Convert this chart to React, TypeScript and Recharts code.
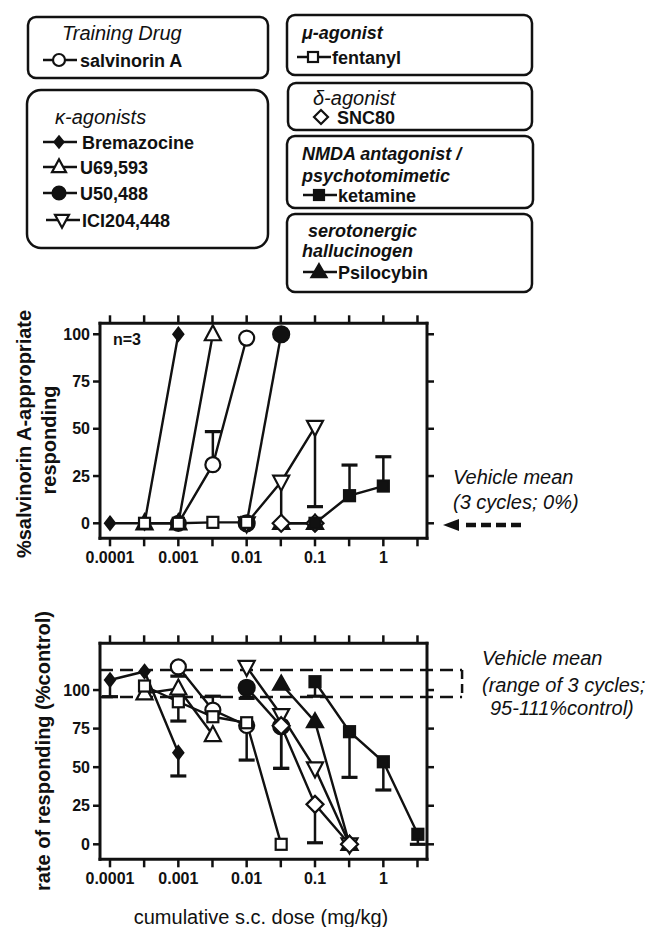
import React from 'react';
import { ComposedChart, Line, XAxis, YAxis, ReferenceLine } from 'recharts';

// ---------- data: [cumulative dose (mg/kg), value] ----------
const DOSE_TICKS = [0.0001, 0.000316, 0.001, 0.00316, 0.01, 0.0316, 0.1, 0.316, 1, 3.16];
const DOSE_TICK_LABELS = ['0.0001', '', '0.001', '', '0.01', '', '0.1', '', '1', ''];
const PCT_TICKS = [0, 25, 50, 75, 100];

const SALV_DISC = [[0.001, 0], [0.0032, 31], [0.01, 98]];
const SALV_RATE = [[0.001, 115], [0.0032, 87], [0.01, 77]];
const SALV_DISC_ERR = [[0.0032, 48.5]];
const SALV_RATE_ERR = [[0.001, 109], [0.0032, 96], [0.01, 54.6]];

const BREM_DISC = [[0.0001, 0], [0.00032, 0], [0.001, 100]];
const BREM_RATE = [[0.0001, 106.5], [0.00032, 112], [0.001, 59.4]];
const BREM_RATE_ERR = [[0.0001, 95.7], [0.001, 44.3]];

const U69_DISC = [[0.00032, 0], [0.001, 0], [0.0032, 100]];
const U69_RATE = [[0.00032, 97.8], [0.001, 101], [0.0032, 70.8]];

const U50_DISC = [[0.01, 0], [0.032, 100]];
const U50_RATE = [[0.01, 101.5], [0.032, 76.5]];
const U50_RATE_ERR = [[0.01, 94.6], [0.032, 49.2]];

const ICI_DISC = [[0.01, 0], [0.032, 22], [0.1, 51]];
const ICI_RATE = [[0.01, 115], [0.032, 83.8], [0.1, 49.2], [0.32, 0]];
const ICI_DISC_ERR = [[0.032, 0], [0.1, 8.8]];

const FENT_DISC = [[0.00032, 0], [0.001, 0], [0.0032, 0.5], [0.01, 0.5]];
const FENT_RATE = [[0.00032, 102.6], [0.001, 92.4], [0.0032, 82.7], [0.01, 78.8], [0.032, 0]];
const FENT_RATE_ERR = [[0.001, 79.9]];

const SNC_DISC = [[0.032, 0], [0.1, 0]];
const SNC_RATE = [[0.032, 76.9], [0.1, 25.9], [0.32, 0]];
const SNC_RATE_ERR = [[0.032, 49.2], [0.1, 1]];

const KET_DISC = [[0.1, 0], [0.32, 14.6], [1, 19.7]];
const KET_RATE = [[0.1, 105.4], [0.32, 73], [1, 53.5], [3.2, 6.5]];
const KET_DISC_ERR = [[0.32, 30.8], [1, 35.2]];
const KET_RATE_ERR = [[0.1, 96], [0.32, 43.4], [1, 35.2], [3.2, 0]];

const PSI_DISC = [[0.032, 0], [0.1, 0]];
const PSI_RATE = [[0.032, 103.9], [0.1, 79.5], [0.32, 0]];

// vehicle range (rate panel) and its box extent
const VEH_RATE_HIGH = 113;
const VEH_RATE_LOW = 95.5;
const VEH_BOX_END_DOSE = 14.2;

// ---------- styling / layout ----------
const INK = '#111';
const FONT = '"Liberation Sans", Arial, Helvetica, sans-serif';
const W = 647;
const H = 927;
const PLOT_LEFT = 100;
const PLOT_RIGHT = 427;
const LOG_MIN = -4.1463;
const LOG_MAX = 0.639;
const X_DOMAIN: [number, number] = [Math.pow(10, LOG_MIN), Math.pow(10, LOG_MAX)];
const PX_PER_DECADE = (PLOT_RIGHT - PLOT_LEFT) / (LOG_MAX - LOG_MIN);
const CAP_FACTOR = Math.pow(10, 8 / PX_PER_DECADE);

type Shape = 'circle' | 'square' | 'diamond' | 'tri' | 'triDown';

type Series = {
  id: string;
  shape: Shape;
  filled: boolean;
  w: number;
  h: number;
  disc: number[][];
  rate: number[][];
  discErr: number[][];
  rateErr: number[][];
};

const SERIES: Series[] = [
  { id: 'u50', shape: 'circle', filled: true, w: 16, h: 16, disc: U50_DISC, rate: U50_RATE, discErr: [], rateErr: U50_RATE_ERR },
  { id: 'salv', shape: 'circle', filled: false, w: 15, h: 15, disc: SALV_DISC, rate: SALV_RATE, discErr: SALV_DISC_ERR, rateErr: SALV_RATE_ERR },
  { id: 'u69', shape: 'tri', filled: false, w: 16, h: 15, disc: U69_DISC, rate: U69_RATE, discErr: [], rateErr: [] },
  { id: 'brem', shape: 'diamond', filled: true, w: 10, h: 13, disc: BREM_DISC, rate: BREM_RATE, discErr: [], rateErr: BREM_RATE_ERR },
  { id: 'ici', shape: 'triDown', filled: false, w: 16, h: 15, disc: ICI_DISC, rate: ICI_RATE, discErr: ICI_DISC_ERR, rateErr: [] },
  { id: 'psi', shape: 'tri', filled: true, w: 16, h: 14, disc: PSI_DISC, rate: PSI_RATE, discErr: [], rateErr: [] },
  { id: 'snc', shape: 'diamond', filled: false, w: 17, h: 17, disc: SNC_DISC, rate: SNC_RATE, discErr: [], rateErr: SNC_RATE_ERR },
  { id: 'fent', shape: 'square', filled: false, w: 11, h: 11, disc: FENT_DISC, rate: FENT_RATE, discErr: [], rateErr: FENT_RATE_ERR },
  { id: 'ket', shape: 'square', filled: true, w: 11, h: 11, disc: KET_DISC, rate: KET_RATE, discErr: KET_DISC_ERR, rateErr: KET_RATE_ERR },
];

type PanelGeom = { top: number; plotTop: number; plotBottom: number; yDomain: [number, number] };
const DISC_GEOM: PanelGeom = { top: 290, plotTop: 33.3, plotBottom: 248.3, yDomain: [-7.94, 105.8] };
const RATE_GEOM: PanelGeom = { top: 600, plotTop: 43.3, plotBottom: 259.3, yDomain: [-9.72, 130.3] };

function Marker({ shape, filled, cx, cy, w, h, sw = 2.2 }: { shape: Shape; filled: boolean; cx: number; cy: number; w: number; h: number; sw?: number }) {
  const fill = filled ? INK : '#fff';
  const common = { fill, stroke: INK, strokeWidth: sw };
  if (shape === 'circle') return <circle cx={cx} cy={cy} r={w / 2} {...common} />;
  if (shape === 'square') return <rect x={cx - w / 2} y={cy - h / 2} width={w} height={h} {...common} />;
  if (shape === 'diamond')
    return <polygon points={`${cx},${cy - h / 2} ${cx + w / 2},${cy} ${cx},${cy + h / 2} ${cx - w / 2},${cy}`} {...common} strokeLinejoin="miter" />;
  if (shape === 'tri')
    return <polygon points={`${cx},${cy - h * 0.6} ${cx + w / 2},${cy + h * 0.4} ${cx - w / 2},${cy + h * 0.4}`} {...common} />;
  return <polygon points={`${cx},${cy + h * 0.6} ${cx + w / 2},${cy - h * 0.4} ${cx - w / 2},${cy - h * 0.4}`} {...common} />;
}

const toPts = (arr: number[][]) => arr.map(([x, y]) => ({ x, y }));

function doseLabel(v: number) {
  const i = DOSE_TICKS.findIndex((t) => Math.abs(Math.log10(t) - Math.log10(v)) < 0.01);
  return i >= 0 ? DOSE_TICK_LABELS[i] : '';
}

const axisStyle = { stroke: INK, strokeWidth: 3, strokeLinecap: 'square' as const };
const tickLineStyle = { stroke: INK, strokeWidth: 2.5 };
const tickText = { fontSize: 16, fontWeight: 700, fill: INK, fontFamily: FONT };

function Panel({ kind, g }: { kind: 'disc' | 'rate'; g: PanelGeom }) {
  const CH = 300;
  const margin = { top: g.plotTop - 20, right: W - PLOT_RIGHT - 20, bottom: CH - g.plotBottom - 30, left: 0 };
  const errLines: React.ReactNode[] = [];
  SERIES.forEach((s) => {
    const vals = kind === 'disc' ? s.disc : s.rate;
    const errs = kind === 'disc' ? s.discErr : s.rateErr;
    errs.forEach(([dose, end], i) => {
      const m = vals.find((p) => p[0] === dose);
      if (!m) return;
      errLines.push(
        <ReferenceLine key={`${s.id}-ev-${i}`} xAxisId="b" yAxisId="l" ifOverflow="visible"
          segment={[{ x: dose, y: m[1] }, { x: dose, y: end }]} stroke={INK} strokeWidth={2.5} />
      );
      errLines.push(
        <ReferenceLine key={`${s.id}-ec-${i}`} xAxisId="b" yAxisId="l" ifOverflow="visible"
          segment={[{ x: dose / CAP_FACTOR, y: end }, { x: dose * CAP_FACTOR, y: end }]} stroke={INK} strokeWidth={3.2} />
      );
    });
  });
  return (
    <div style={{ position: 'absolute', left: 0, top: g.top }}>
      <ComposedChart width={W} height={CH} margin={margin}>
        <XAxis xAxisId="b" dataKey="x" type="number" scale="log" domain={X_DOMAIN} allowDataOverflow
          ticks={DOSE_TICKS} interval={0} tickFormatter={doseLabel} height={30} tickSize={8} tickMargin={5}
          axisLine={axisStyle} tickLine={tickLineStyle} tick={tickText} />
        <XAxis xAxisId="t" orientation="top" dataKey="x" type="number" scale="log" domain={X_DOMAIN} allowDataOverflow
          height={20} tick={false} tickLine={false} axisLine={axisStyle} />
        <YAxis yAxisId="l" type="number" domain={g.yDomain} allowDataOverflow ticks={PCT_TICKS} interval={0}
          width={100} tickSize={7} tickMargin={3} axisLine={axisStyle} tickLine={tickLineStyle} tick={tickText} />
        <YAxis yAxisId="r" orientation="right" type="number" domain={g.yDomain} allowDataOverflow
          width={20} tick={false} tickLine={false} axisLine={axisStyle} />
        <Line xAxisId="t" yAxisId="r" data={toPts(kind === 'disc' ? SERIES[0].disc : SERIES[0].rate)} dataKey="y" stroke="none" strokeWidth={0}
          dot={false} activeDot={false} isAnimationActive={false} legendType="none" />
        {kind === 'rate' && (
          <>
            <ReferenceLine xAxisId="b" yAxisId="l" ifOverflow="visible" stroke={INK} strokeWidth={2.5} strokeDasharray="13 7"
              segment={[{ x: X_DOMAIN[0], y: VEH_RATE_HIGH }, { x: VEH_BOX_END_DOSE, y: VEH_RATE_HIGH }]} />
            <ReferenceLine xAxisId="b" yAxisId="l" ifOverflow="visible" stroke={INK} strokeWidth={2.5} strokeDasharray="13 7"
              segment={[{ x: X_DOMAIN[0], y: VEH_RATE_LOW }, { x: VEH_BOX_END_DOSE, y: VEH_RATE_LOW }]} />
            <ReferenceLine xAxisId="b" yAxisId="l" ifOverflow="visible" stroke={INK} strokeWidth={2.5} strokeDasharray="9 5"
              segment={[{ x: VEH_BOX_END_DOSE, y: VEH_RATE_HIGH }, { x: VEH_BOX_END_DOSE, y: VEH_RATE_LOW }]} />
          </>
        )}
        {errLines}
        {SERIES.map((s) => (
          <Line key={s.id} xAxisId="b" yAxisId="l" data={toPts(kind === 'disc' ? s.disc : s.rate)} dataKey="y"
            type="linear" stroke={INK} strokeWidth={2.4} isAnimationActive={false} activeDot={false}
            dot={(p: any) =>
              p.cx == null || p.cy == null ? <g key={`${s.id}-${p.index}`} /> :
                <Marker key={`${s.id}-${p.index}`} shape={s.shape} filled={s.filled} cx={p.cx} cy={p.cy} w={s.w} h={s.h} />
            } />
        ))}
      </ComposedChart>
    </div>
  );
}

// outward ticks for the top and right edges of a panel frame (same tick values as the labelled axes)
function FrameTicks({ g }: { g: PanelGeom }) {
  const top = g.top + g.plotTop;
  const bottom = g.top + g.plotBottom;
  const xPx = (d: number) => PLOT_LEFT + (Math.log10(d) - LOG_MIN) * PX_PER_DECADE;
  const yPx = (v: number) => bottom - ((v - g.yDomain[0]) / (g.yDomain[1] - g.yDomain[0])) * (bottom - top);
  return (
    <g>
      {DOSE_TICKS.map((d, i) => (
        <line key={`t${i}`} x1={xPx(d)} x2={xPx(d)} y1={top} y2={top - 8} stroke={INK} strokeWidth={2.5} />
      ))}
      {PCT_TICKS.map((v, i) => (
        <line key={`r${i}`} x1={PLOT_RIGHT} x2={PLOT_RIGHT + 7} y1={yPx(v)} y2={yPx(v)} stroke={INK} strokeWidth={2.5} />
      ))}
    </g>
  );
}

function LegendItem({ x, y, shape, filled, w, h, label, textX }: { x: number; y: number; shape: Shape; filled: boolean; w: number; h: number; label: string; textX: number }) {
  return (
    <g>
      <line x1={x} y1={y} x2={x + 34} y2={y} stroke={INK} strokeWidth={2.4} />
      <Marker shape={shape} filled={filled} cx={x + 16} cy={y} w={w} h={h} />
      <text x={textX} y={y + 6.5} fontSize={18} fontWeight={700} fill={INK}>{label}</text>
    </g>
  );
}

function Overlay() {
  const boxStyle = { fill: 'none', stroke: INK, strokeWidth: 2.5 };
  return (
    <svg width={W} height={H} style={{ position: 'absolute', left: 0, top: 0, pointerEvents: 'none', zIndex: 5 }} fontFamily={FONT}>
      <FrameTicks g={DISC_GEOM} />
      <FrameTicks g={RATE_GEOM} />

      {/* legend boxes, left */}
      <rect x={28} y={17} width={240} height={61} rx={8} {...boxStyle} />
      <text x={62} y={40} fontSize={20} fontStyle="italic" fill={INK}>Training Drug</text>
      <LegendItem x={43} y={60} shape="circle" filled={false} w={12} h={12} label="salvinorin A" textX={80} />

      <rect x={27} y={90} width={241} height={158} rx={14} {...boxStyle} />
      <text x={55} y={124} fontSize={20} fontStyle="italic" fill={INK}>κ-agonists</text>
      <LegendItem x={43} y={142} shape="diamond" filled w={9} h={11} label="Bremazocine" textX={82} />
      <LegendItem x={43} y={167} shape="tri" filled={false} w={14} h={13} label="U69,593" textX={80} />
      <LegendItem x={43} y={193} shape="circle" filled w={13} h={13} label="U50,488" textX={80} />
      <LegendItem x={46} y={220} shape="triDown" filled={false} w={14} h={13} label="ICI204,448" textX={82} />

      {/* legend boxes, right */}
      <rect x={287} y={15} width={245} height={60} rx={8} {...boxStyle} />
      <text x={302} y={38.5} fontSize={18} fontWeight={700} fontStyle="italic" fill={INK}>μ-agonist</text>
      <LegendItem x={297} y={57} shape="square" filled={false} w={10} h={10} label="fentanyl" textX={332} />

      <rect x={288} y={83} width={244} height={47} rx={8} {...boxStyle} />
      <text x={313} y={105} fontSize={20} fontStyle="italic" fill={INK}>δ-agonist</text>
      <Marker shape="diamond" filled={false} cx={321} cy={117} w={14} h={14} />
      <text x={337} y={123.5} fontSize={18} fontWeight={700} fill={INK}>SNC80</text>

      <rect x={287} y={136} width={246} height={72} rx={8} {...boxStyle} />
      <text x={302} y={159.5} fontSize={18} fontWeight={700} fontStyle="italic" fill={INK}>NMDA antagonist /</text>
      <text x={302} y={181.5} fontSize={18} fontWeight={700} fontStyle="italic" fill={INK}>psychotomimetic</text>
      <LegendItem x={303} y={195} shape="square" filled w={10} h={10} label="ketamine" textX={338} />

      <rect x={287} y={214} width={245} height={78} rx={8} {...boxStyle} />
      <text x={308} y={236.5} fontSize={18} fontWeight={700} fontStyle="italic" fill={INK}>serotonergic</text>
      <text x={302} y={256.5} fontSize={18} fontWeight={700} fontStyle="italic" fill={INK}>hallucinogen</text>
      <LegendItem x={303} y={272} shape="tri" filled w={15} h={13} label="Psilocybin" textX={338} />

      {/* axis titles */}
      <text transform="translate(24,434) rotate(-90)" textAnchor="middle" dominantBaseline="central" fontSize={20} fontWeight={700} fill={INK}>%salvinorin A-appropriate</text>
      <text transform="translate(49,440) rotate(-90)" textAnchor="middle" dominantBaseline="central" fontSize={20} fontWeight={700} fill={INK}>responding</text>
      <text transform="translate(43,751) rotate(-90)" textAnchor="middle" dominantBaseline="central" fontSize={20} fontWeight={700} fill={INK}>rate of responding (%control)</text>
      <text x={261} y={924} textAnchor="middle" fontSize={20} fill={INK}>cumulative s.c. dose (mg/kg)</text>

      <text x={113} y={345} fontSize={16} fontWeight={700} fill={INK}>n=3</text>

      {/* vehicle annotations */}
      <text x={453} y={484} fontSize={20} fontStyle="italic" fill={INK}>Vehicle mean</text>
      <text x={453} y={509} fontSize={20} fontStyle="italic" fill={INK}>(3 cycles; 0%)</text>
      <polygon points="443,525 459,519 459,531" fill={INK} />
      <line x1={466} y1={525} x2={521} y2={525} stroke={INK} strokeWidth={4.5} strokeDasharray="10 5" />

      <text x={482} y={665} fontSize={20} fontStyle="italic" fill={INK}>Vehicle mean</text>
      <text x={482} y={692} fontSize={20} fontStyle="italic" fill={INK}>(range of 3 cycles;</text>
      <text x={490} y={715} fontSize={20} fontStyle="italic" fill={INK}>95-111%control)</text>
    </svg>
  );
}

export default function App() {
  return (
    <div style={{ position: 'absolute', left: 0, top: 0, width: W, height: H, background: '#fff', fontFamily: FONT }}>
      <Panel kind="disc" g={DISC_GEOM} />
      <Panel kind="rate" g={RATE_GEOM} />
      <Overlay />
    </div>
  );
}
